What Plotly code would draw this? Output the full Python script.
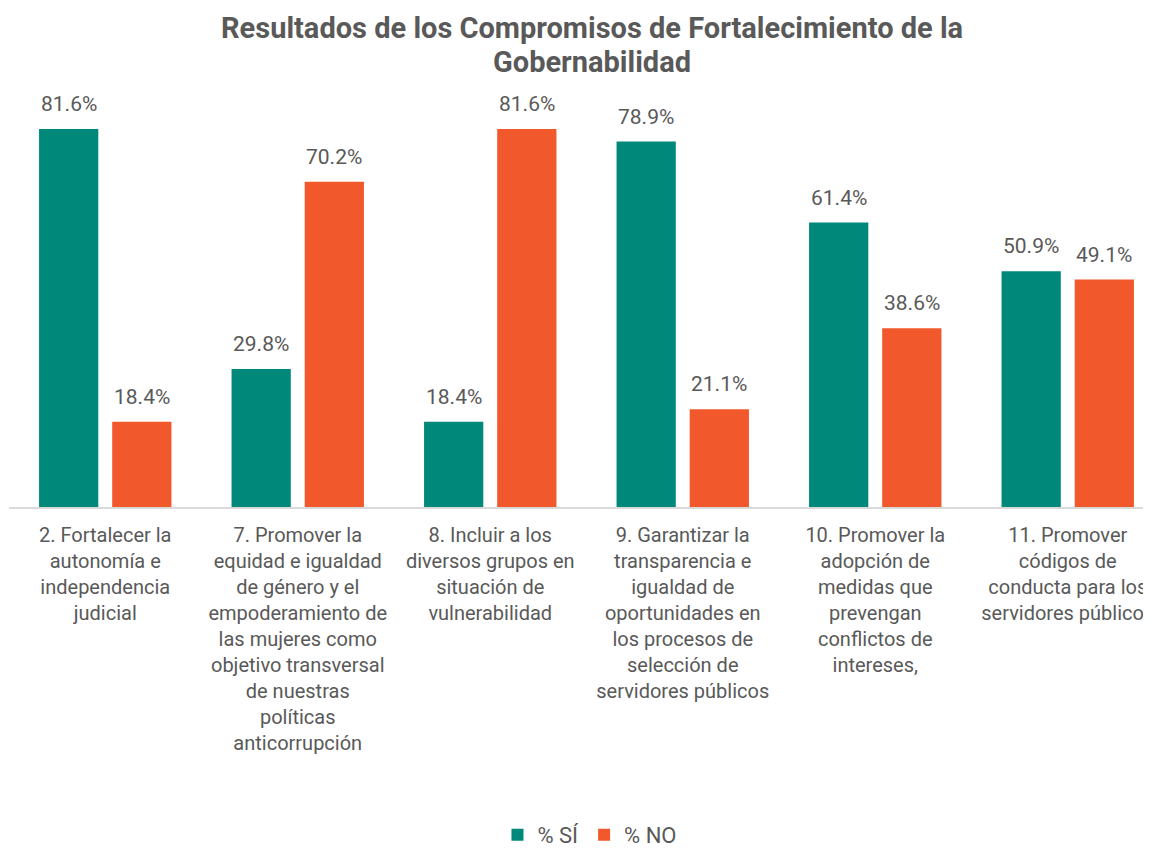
import plotly.graph_objects as go

categories = [
    "2. Fortalecer la<br>autonomía e<br>independencia<br>judicial",
    "7. Promover la<br>equidad e igualdad<br>de género y el<br>empoderamiento de<br>las mujeres como<br>objetivo transversal<br>de nuestras<br>políticas<br>anticorrupción",
    "8. Incluir a los<br>diversos grupos en<br>situación de<br>vulnerabilidad",
    "9. Garantizar la<br>transparencia e<br>igualdad de<br>oportunidades en<br>los procesos de<br>selección de<br>servidores públicos",
    "10. Promover la<br>adopción de<br>medidas que<br>prevengan<br>conflictos de<br>intereses,",
    "11. Promover<br>códigos de<br>conducta para los<br>servidores públicos",
]
si_values = [81.6, 29.8, 18.4, 78.9, 61.4, 50.9]
no_values = [18.4, 70.2, 81.6, 21.1, 38.6, 49.1]
series_names = ["% SÍ", "% NO"]
colors = ["#00897b", "#f1582c"]
title_lines = ["Resultados de los Compromisos de Fortalecimiento de la", "Gobernabilidad"]

xpos = list(range(len(categories)))
TXT = "#595959"
FONT = "Roboto"

fig = go.Figure()
for name, vals, col in zip(series_names, [si_values, no_values], colors):
    fig.add_trace(go.Bar(x=xpos, y=vals, name=name, marker=dict(color=col, line=dict(width=0))))

bargap = 0.24
bargroupgap = 0.19
slot = (1 - bargap) / 2
offsets = [-slot / 2, slot / 2]
annotations = []
for vals, off in zip([si_values, no_values], offsets):
    for x, v in zip(xpos, vals):
        annotations.append(dict(x=x + off, y=v, xref="x", yref="y", text=f"{v:.1f}%",
                                showarrow=False, yanchor="middle", yshift=25,
                                font=dict(family=FONT, size=21, color=TXT)))

for txt, yp in zip(title_lines, [1.1769, 1.0934]):
    annotations.append(dict(x=0.5048, y=yp, xref="paper", yref="paper", text=f"<b>{txt}</b>",
                            showarrow=False, xanchor="center", yanchor="middle",
                            font=dict(family=FONT, size=29, color=TXT)))

fig.update_layout(
    width=1156, height=848,
    margin=dict(l=1, r=0, t=92, b=349),
    paper_bgcolor="white", plot_bgcolor="white",
    barmode="group", bargap=bargap, bargroupgap=bargroupgap,
    font=dict(family=FONT, size=20, color=TXT),
    xaxis=dict(range=[-0.5, 5.5], tickvals=xpos, ticktext=categories,
               showline=True, linecolor="#d9d9d9", linewidth=1.5, showgrid=False,
               ticks="outside", ticklen=9, tickcolor="rgba(0,0,0,0)", zeroline=False,
               tickfont=dict(family=FONT, size=20, color=TXT), tickangle=0),
    yaxis=dict(range=[0, 407 / 4.632], visible=False, showgrid=False, zeroline=False),
    legend=dict(orientation="h", x=0.503, xanchor="center", y=-0.808, yanchor="middle",
                font=dict(family=FONT, size=22, color=TXT)),
    annotations=annotations,
)

fig.write_html("out.html")
